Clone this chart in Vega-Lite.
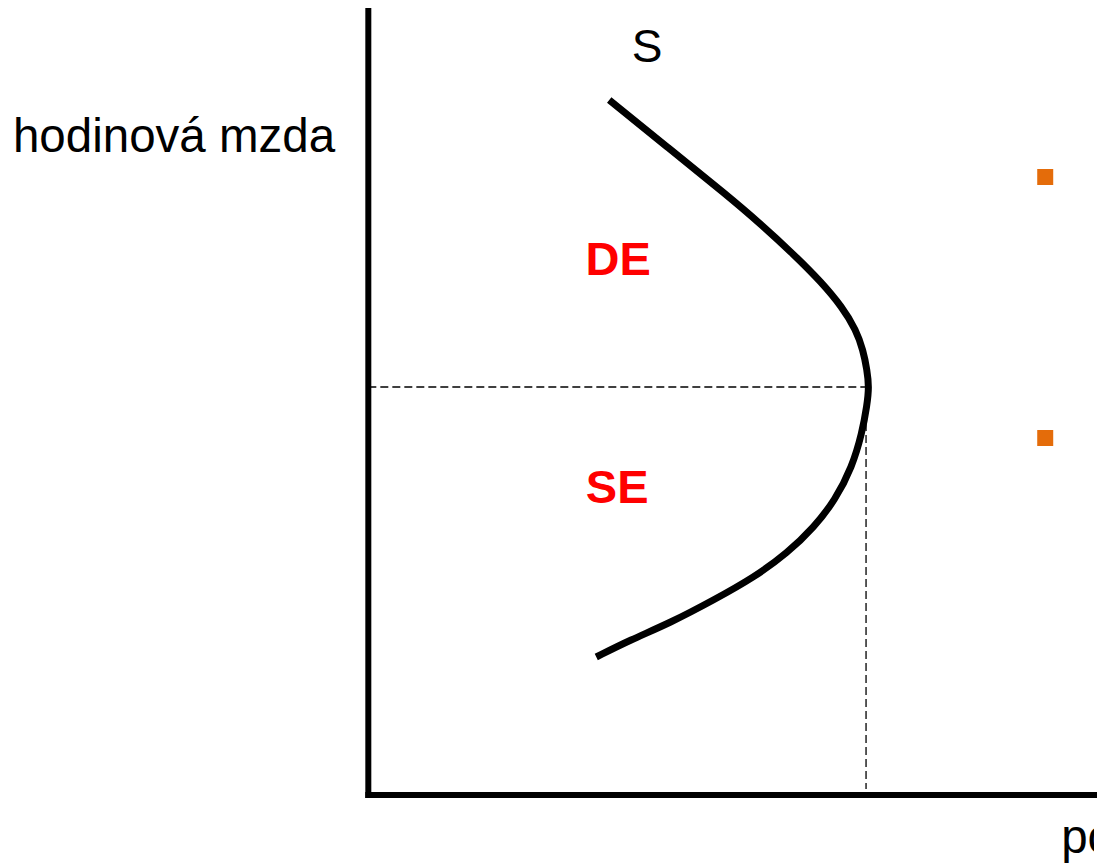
{
  "$schema": "https://vega.github.io/schema/vega-lite/v6.json",
  "width": 1099,
  "height": 863,
  "autosize": {"type": "fit", "contains": "padding"},
  "padding": 0,
  "background": "white",
  "config": {"view": {"stroke": null}},
  "datasets": {
    "curve": [
      {"i": 1, "hours": 24.2, "wage": 69.5},
      {"i": 2, "hours": 30.15, "wage": 64.7},
      {"i": 3, "hours": 36.0, "wage": 60.0},
      {"i": 4, "hours": 39.3, "wage": 57.2},
      {"i": 5, "hours": 42.8, "wage": 54.0},
      {"i": 6, "hours": 45.5, "wage": 51.3},
      {"i": 7, "hours": 47.6, "wage": 48.8},
      {"i": 8, "hours": 49.0, "wage": 46.5},
      {"i": 9, "hours": 49.7, "wage": 44.5},
      {"i": 10, "hours": 50.1, "wage": 42.5},
      {"i": 11, "hours": 50.3, "wage": 40.8},
      {"i": 12, "hours": 50.1, "wage": 39.0},
      {"i": 13, "hours": 49.6, "wage": 36.2},
      {"i": 14, "hours": 48.6, "wage": 32.8},
      {"i": 15, "hours": 46.9, "wage": 29.5},
      {"i": 16, "hours": 44.8, "wage": 26.8},
      {"i": 17, "hours": 42.1, "wage": 24.2},
      {"i": 18, "hours": 38.8, "wage": 21.8},
      {"i": 19, "hours": 34.7, "wage": 19.5},
      {"i": 20, "hours": 30.3, "wage": 17.2},
      {"i": 21, "hours": 26.3, "wage": 15.5},
      {"i": 22, "hours": 22.9, "wage": 13.8}
    ],
    "axes": [
      {"x1": 0, "y1": 0, "x2": 0, "y2": 78.4},
      {"x1": 0, "y1": 0, "x2": 72.9, "y2": 0}
    ],
    "dashes": [
      {"x1": 0, "y1": 40.8, "x2": 50.0, "y2": 40.8},
      {"x1": 50.0, "y1": 40.8, "x2": 50.0, "y2": 0.6}
    ],
    "bullets": [
      {"hours": 68.0, "wage": 61.8},
      {"hours": 68.0, "wage": 35.7}
    ],
    "leftLabels": [
      {"hours": -35.7, "wage": 64.3, "text": "hodinová mzda"},
      {"hours": 69.6, "wage": -5.8, "text": "počet hodin"}
    ],
    "centerLabels": [
      {"hours": 28.0, "wage": 73.3, "text": "S"}
    ],
    "effects": [
      {"hours": 25.1, "wage": 52.0, "text": "DE"},
      {"hours": 25.0, "wage": 29.2, "text": "SE"}
    ]
  },
  "layer": [
    {
      "data": {"name": "axes"},
      "mark": {"type": "rule", "strokeWidth": 6, "color": "black", "strokeCap": "square"},
      "encoding": {
        "x": {"field": "x1", "type": "quantitative", "scale": {"domain": [-37, 72.9], "nice": false, "zero": false}, "axis": null},
        "y": {"field": "y1", "type": "quantitative", "scale": {"domain": [-6.8, 79.5], "nice": false, "zero": false}, "axis": null},
        "x2": {"field": "x2"},
        "y2": {"field": "y2"}
      }
    },
    {
      "data": {"name": "dashes"},
      "mark": {"type": "rule", "strokeWidth": 1.3, "color": "black", "strokeDash": [8, 4]},
      "encoding": {
        "x": {"field": "x1", "type": "quantitative"},
        "y": {"field": "y1", "type": "quantitative"},
        "x2": {"field": "x2"},
        "y2": {"field": "y2"}
      }
    },
    {
      "data": {"name": "curve"},
      "mark": {"type": "line", "strokeWidth": 7, "color": "black", "interpolate": "basis", "strokeCap": "butt"},
      "encoding": {
        "x": {"field": "hours", "type": "quantitative"},
        "y": {"field": "wage", "type": "quantitative"},
        "order": {"field": "i", "type": "quantitative"}
      }
    },
    {
      "data": {"name": "bullets"},
      "mark": {"type": "point", "shape": "square", "size": 256, "filled": true, "color": "#E46C0A", "opacity": 1},
      "encoding": {
        "x": {"field": "hours", "type": "quantitative"},
        "y": {"field": "wage", "type": "quantitative"}
      }
    },
    {
      "data": {"name": "leftLabels"},
      "mark": {"type": "text", "font": "Liberation Sans", "fontSize": 47.5, "color": "black", "baseline": "alphabetic", "align": "left", "clip": true},
      "encoding": {
        "x": {"field": "hours", "type": "quantitative"},
        "y": {"field": "wage", "type": "quantitative"},
        "text": {"field": "text"}
      }
    },
    {
      "data": {"name": "centerLabels"},
      "mark": {"type": "text", "font": "Liberation Sans", "fontSize": 46, "color": "black", "baseline": "alphabetic", "align": "center"},
      "encoding": {
        "x": {"field": "hours", "type": "quantitative"},
        "y": {"field": "wage", "type": "quantitative"},
        "text": {"field": "text"}
      }
    },
    {
      "data": {"name": "effects"},
      "mark": {"type": "text", "font": "Liberation Sans", "fontSize": 47, "fontWeight": "bold", "color": "#FF0000", "baseline": "alphabetic", "align": "center"},
      "encoding": {
        "x": {"field": "hours", "type": "quantitative"},
        "y": {"field": "wage", "type": "quantitative"},
        "text": {"field": "text"}
      }
    }
  ]
}
